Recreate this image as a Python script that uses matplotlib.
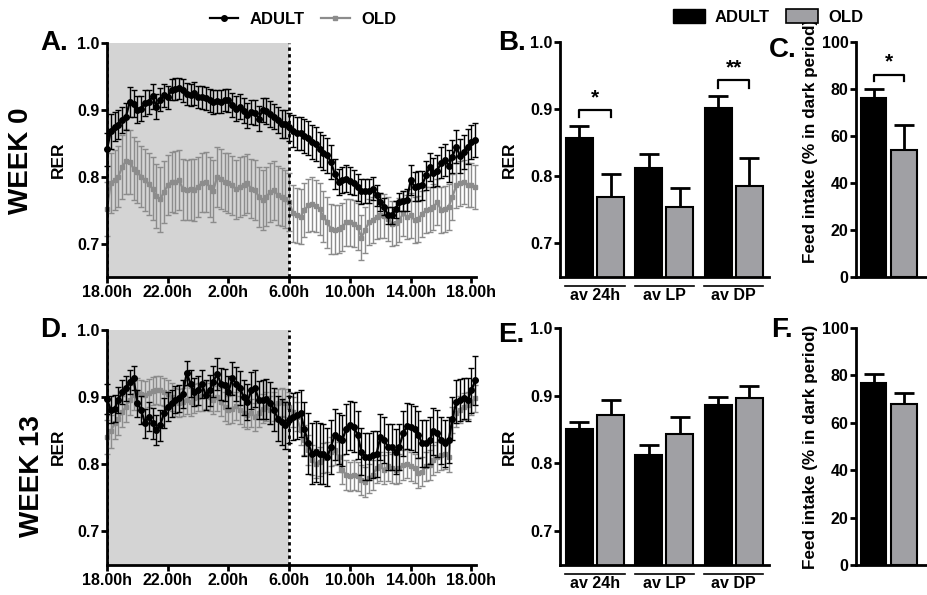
import numpy as np
import matplotlib
matplotlib.use("Agg")
import matplotlib.pyplot as plt
from matplotlib.lines import Line2D
from matplotlib.patches import Patch
import matplotlib.transforms as mtransforms

plt.rcParams['font.family'] = ['Liberation Sans', 'DejaVu Sans']
plt.rcParams['font.weight'] = 'bold'
plt.rcParams['axes.labelweight'] = 'bold'

# ---------------- data ----------------
time_step_h = 0.25  # 15-min sampling, 18:00 -> 18:15 next day
time_ticks = [0, 4, 8, 12, 16, 20, 24]
time_labels = ["18.00h", "22.00h", "2.00h", "6.00h", "10.00h", "14.00h", "18.00h"]

adult_w0 = [0.841, 0.868, 0.875, 0.878, 0.885, 0.890, 0.912, 0.909, 0.900, 0.902,
            0.910, 0.912, 0.920, 0.905, 0.915, 0.922, 0.919, 0.930, 0.931, 0.932,
            0.929, 0.924, 0.922, 0.925, 0.919, 0.919, 0.917, 0.914, 0.912, 0.913,
            0.912, 0.915, 0.914, 0.907, 0.902, 0.905, 0.899, 0.892, 0.897, 0.896,
            0.887, 0.900, 0.898, 0.894, 0.890, 0.885, 0.879, 0.879, 0.875, 0.868,
            0.865, 0.865, 0.861, 0.858, 0.852, 0.849, 0.841, 0.836, 0.832, 0.822,
            0.804, 0.792, 0.795, 0.797, 0.794, 0.791, 0.784, 0.778, 0.778, 0.778,
            0.782, 0.772, 0.762, 0.755, 0.742, 0.742, 0.751, 0.762, 0.764, 0.765,
            0.795, 0.785, 0.786, 0.787, 0.802, 0.815, 0.806, 0.809, 0.821, 0.825,
            0.816, 0.830, 0.845, 0.831, 0.837, 0.845, 0.852, 0.855]
adult_w0_err = [0.025, 0.026, 0.022, 0.022, 0.020, 0.020, 0.022, 0.020, 0.020, 0.019,
                0.019, 0.018, 0.018, 0.018, 0.017, 0.017, 0.017, 0.016, 0.017, 0.016,
                0.017, 0.016, 0.016, 0.017, 0.016, 0.017, 0.017, 0.017, 0.018, 0.017,
                0.017, 0.016, 0.017, 0.018, 0.018, 0.018, 0.018, 0.019, 0.018, 0.018,
                0.019, 0.018, 0.019, 0.019, 0.019, 0.020, 0.021, 0.021, 0.021, 0.024,
                0.025, 0.025, 0.025, 0.026, 0.025, 0.026, 0.026, 0.026, 0.026, 0.025,
                0.022, 0.020, 0.020, 0.020, 0.020, 0.019, 0.020, 0.019, 0.018, 0.018,
                0.017, 0.016, 0.014, 0.013, 0.012, 0.012, 0.013, 0.014, 0.015, 0.016,
                0.022, 0.022, 0.022, 0.022, 0.022, 0.021, 0.022, 0.023, 0.023, 0.024,
                0.024, 0.025, 0.025, 0.025, 0.026, 0.026, 0.025, 0.025]

old_w0 = [0.752, 0.791, 0.795, 0.800, 0.815, 0.823, 0.822, 0.812, 0.807, 0.800,
          0.795, 0.789, 0.782, 0.771, 0.766, 0.777, 0.787, 0.792, 0.792, 0.795,
          0.781, 0.780, 0.781, 0.780, 0.785, 0.791, 0.792, 0.785, 0.779, 0.800,
          0.797, 0.792, 0.791, 0.787, 0.781, 0.785, 0.787, 0.790, 0.782, 0.780,
          0.770, 0.765, 0.770, 0.777, 0.780, 0.772, 0.770, 0.767, 0.762, 0.745,
          0.742, 0.740, 0.750, 0.757, 0.759, 0.756, 0.752, 0.740, 0.732, 0.722,
          0.721, 0.722, 0.725, 0.732, 0.732, 0.730, 0.725, 0.709, 0.720, 0.732,
          0.735, 0.740, 0.742, 0.741, 0.737, 0.730, 0.731, 0.735, 0.745, 0.740,
          0.742, 0.735, 0.737, 0.744, 0.750, 0.751, 0.755, 0.762, 0.750, 0.752,
          0.755, 0.770, 0.787, 0.790, 0.792, 0.787, 0.787, 0.785]
old_w0_err = [0.040, 0.045, 0.045, 0.046, 0.048, 0.049, 0.048, 0.047, 0.047, 0.046,
              0.046, 0.047, 0.047, 0.048, 0.048, 0.046, 0.045, 0.045, 0.046, 0.045,
              0.045, 0.045, 0.045, 0.046, 0.045, 0.044, 0.045, 0.045, 0.046, 0.045,
              0.045, 0.044, 0.045, 0.044, 0.044, 0.045, 0.044, 0.044, 0.044, 0.045,
              0.045, 0.045, 0.044, 0.044, 0.044, 0.044, 0.043, 0.043, 0.043, 0.042,
              0.041, 0.041, 0.040, 0.040, 0.040, 0.039, 0.039, 0.038, 0.038, 0.037,
              0.036, 0.036, 0.036, 0.035, 0.035, 0.035, 0.035, 0.034, 0.034, 0.034,
              0.034, 0.033, 0.033, 0.033, 0.033, 0.033, 0.033, 0.033, 0.033, 0.033,
              0.034, 0.034, 0.034, 0.034, 0.034, 0.034, 0.034, 0.034, 0.034, 0.034,
              0.034, 0.034, 0.034, 0.034, 0.033, 0.033, 0.033, 0.033]

adult_w13 = [0.897, 0.881, 0.883, 0.896, 0.908, 0.913, 0.923, 0.928, 0.891, 0.881,
             0.861, 0.871, 0.861, 0.851, 0.858, 0.876, 0.886, 0.891, 0.896, 0.898,
             0.905, 0.936, 0.920, 0.908, 0.910, 0.920, 0.903, 0.910, 0.923, 0.935,
             0.920, 0.918, 0.908, 0.928, 0.920, 0.914, 0.900, 0.893, 0.910, 0.913,
             0.896, 0.896, 0.897, 0.891, 0.881, 0.868, 0.863, 0.858, 0.866, 0.871,
             0.873, 0.876, 0.853, 0.831, 0.816, 0.819, 0.816, 0.815, 0.811, 0.826,
             0.844, 0.839, 0.836, 0.853, 0.858, 0.856, 0.844, 0.819, 0.811, 0.811,
             0.814, 0.815, 0.841, 0.836, 0.826, 0.826, 0.819, 0.826, 0.846, 0.857,
             0.856, 0.853, 0.844, 0.831, 0.831, 0.836, 0.849, 0.846, 0.836, 0.831,
             0.836, 0.868, 0.893, 0.896, 0.898, 0.896, 0.910, 0.925]
adult_w13_err = [0.022, 0.020, 0.020, 0.019, 0.018, 0.018, 0.018, 0.018, 0.020, 0.021,
                 0.022, 0.022, 0.023, 0.023, 0.023, 0.022, 0.021, 0.020, 0.020, 0.020,
                 0.021, 0.018, 0.020, 0.021, 0.021, 0.021, 0.022, 0.023, 0.023, 0.024,
                 0.024, 0.024, 0.024, 0.025, 0.025, 0.025, 0.026, 0.027, 0.027, 0.027,
                 0.028, 0.029, 0.030, 0.031, 0.032, 0.033, 0.034, 0.035, 0.035, 0.035,
                 0.035, 0.035, 0.040, 0.045, 0.045, 0.045, 0.045, 0.045, 0.043, 0.040,
                 0.038, 0.038, 0.038, 0.037, 0.037, 0.037, 0.036, 0.035, 0.035, 0.035,
                 0.035, 0.034, 0.034, 0.034, 0.034, 0.034, 0.034, 0.034, 0.034, 0.034,
                 0.034, 0.034, 0.035, 0.035, 0.035, 0.035, 0.035, 0.035, 0.035, 0.035,
                 0.034, 0.032, 0.032, 0.031, 0.031, 0.032, 0.033, 0.036]

old_w13 = [0.841, 0.849, 0.861, 0.868, 0.878, 0.886, 0.896, 0.903, 0.908, 0.905,
           0.903, 0.906, 0.909, 0.911, 0.910, 0.908, 0.905, 0.900, 0.893, 0.891,
           0.893, 0.896, 0.893, 0.898, 0.900, 0.901, 0.903, 0.900, 0.896, 0.900,
           0.893, 0.886, 0.881, 0.883, 0.887, 0.881, 0.876, 0.873, 0.876, 0.871,
           0.876, 0.883, 0.886, 0.881, 0.886, 0.891, 0.893, 0.891, 0.886, 0.878,
           0.871, 0.851, 0.836, 0.821, 0.806, 0.801, 0.804, 0.809, 0.811, 0.819,
           0.821, 0.811, 0.792, 0.784, 0.782, 0.784, 0.782, 0.777, 0.774, 0.779,
           0.784, 0.794, 0.797, 0.792, 0.797, 0.794, 0.792, 0.794, 0.799, 0.801,
           0.797, 0.794, 0.787, 0.789, 0.797, 0.799, 0.806, 0.811, 0.814, 0.815,
           0.811, 0.866, 0.876, 0.881, 0.886, 0.888, 0.893, 0.898]
old_w13_err = [0.025, 0.025, 0.024, 0.024, 0.023, 0.023, 0.022, 0.022, 0.021, 0.021,
               0.021, 0.021, 0.021, 0.021, 0.021, 0.021, 0.021, 0.021, 0.021, 0.021,
               0.021, 0.021, 0.021, 0.021, 0.021, 0.021, 0.021, 0.021, 0.021, 0.021,
               0.021, 0.021, 0.021, 0.021, 0.021, 0.021, 0.021, 0.021, 0.021, 0.021,
               0.021, 0.021, 0.021, 0.021, 0.021, 0.021, 0.021, 0.021, 0.021, 0.022,
               0.022, 0.022, 0.022, 0.022, 0.022, 0.022, 0.022, 0.022, 0.022, 0.022,
               0.022, 0.022, 0.022, 0.022, 0.022, 0.022, 0.022, 0.022, 0.022, 0.022,
               0.022, 0.022, 0.022, 0.022, 0.022, 0.022, 0.022, 0.022, 0.022, 0.022,
               0.022, 0.022, 0.022, 0.022, 0.022, 0.022, 0.022, 0.022, 0.022, 0.022,
               0.022, 0.020, 0.020, 0.020, 0.020, 0.020, 0.020, 0.020]

bar_groups = ["av 24h", "av LP", "av DP"]
rer_w0_adult = [0.857, 0.812, 0.901]
rer_w0_adult_err = [0.018, 0.021, 0.019]
rer_w0_old = [0.769, 0.755, 0.785]
rer_w0_old_err = [0.035, 0.027, 0.042]
rer_w13_adult = [0.851, 0.813, 0.887]
rer_w13_adult_err = [0.010, 0.014, 0.011]
rer_w13_old = [0.871, 0.843, 0.896]
rer_w13_old_err = [0.022, 0.026, 0.019]

feed_w0 = [76.0, 53.9]
feed_w0_err = [4.0, 10.8]
feed_w13 = [76.7, 67.8]
feed_w13_err = [3.8, 4.8]

# ---------------- style ----------------
BLACK = "#000000"
GREY_LINE = "#8c8c8c"
GREY_BAR = "#a0a0a4"
SHADE = "#d4d4d4"
TICK_FS = 11.5
SPINE_LW = 2.0

W, H = 927, 595
fig = plt.figure(figsize=(W / 100, H / 100), dpi=100)


def px_axes(left, top, right, bottom):
    return fig.add_axes([left / W, 1 - bottom / H, (right - left) / W, (bottom - top) / H])


def style(ax):
    for s in ["top", "right"]:
        ax.spines[s].set_visible(False)
    for s in ["left", "bottom"]:
        ax.spines[s].set_linewidth(SPINE_LW)
    ax.tick_params(width=SPINE_LW, length=4, labelsize=TICK_FS, pad=1.5)
    for lab in ax.get_xticklabels() + ax.get_yticklabels():
        lab.set_fontweight("bold")


def time_panel(ax, adult, adult_err, old, old_err):
    n = len(adult)
    hours = np.arange(n) * time_step_h
    ax.axvspan(0, 12, color=SHADE, zorder=0, lw=0)
    ax.errorbar(hours, old, yerr=old_err, fmt='-s', color=GREY_LINE, ms=3.5,
                lw=1.6, elinewidth=1.0, capsize=2.5, capthick=1.0, zorder=2,
                clip_on=False)
    ax.errorbar(hours, adult, yerr=adult_err, fmt='-o', color=BLACK, ms=4,
                lw=1.6, elinewidth=1.0, capsize=2.5, capthick=1.0, zorder=3,
                clip_on=False)
    ax.axvline(0, color=BLACK, ls=(0, (1.2, 1.2)), lw=2, zorder=4)
    ax.axvline(12, color=BLACK, ls=(0, (1.2, 1.2)), lw=2, zorder=4)
    ax.set_xlim(0, 24.3)
    ax.set_ylim(0.65, 1.0)
    ax.set_yticks([0.7, 0.8, 0.9, 1.0])
    ax.set_yticklabels(["0.7", "0.8", "0.9", "1.0"])
    ax.set_xticks(time_ticks)
    ax.set_xticklabels(time_labels)
    style(ax)


def rer_bars(ax, adult, adult_err, old, old_err):
    x = np.arange(len(bar_groups))
    off, bw = 0.224, 0.39
    ax.bar(x - off, adult, bw, color=BLACK, edgecolor=BLACK, lw=1.5, zorder=2)
    ax.bar(x + off, old, bw, color=GREY_BAR, edgecolor=BLACK, lw=1.5, zorder=2)
    ax.errorbar(x - off, adult, yerr=[np.zeros(len(adult)), adult_err], fmt='none',
                ecolor=BLACK, elinewidth=2, capsize=7, capthick=2, zorder=1)
    ax.errorbar(x + off, old, yerr=[np.zeros(len(old)), old_err], fmt='none',
                ecolor=BLACK, elinewidth=2, capsize=7, capthick=2, zorder=1)
    ax.set_xlim(-0.505, 2.51)
    ax.set_ylim(0.65, 1.0)
    ax.set_yticks([0.7, 0.8, 0.9, 1.0])
    ax.set_yticklabels(["0.7", "0.8", "0.9", "1.0"])
    ax.set_xticks([])
    style(ax)
    trans = mtransforms.blended_transform_factory(ax.transData, ax.transAxes)
    for xi, lab in zip(x, bar_groups):
        ax.plot([xi - 0.43, xi + 0.43], [-0.04, -0.04], color=BLACK, lw=1.2,
                transform=trans, clip_on=False)
        ax.text(xi, -0.078, lab, transform=trans, ha='center', va='center',
                fontsize=TICK_FS, fontweight='bold')


def feed_bars(ax, vals, errs):
    x = np.arange(2)
    bw = 0.84
    ax.bar(x, vals, bw, color=[BLACK, GREY_BAR], edgecolor=BLACK, lw=1.5, zorder=2)
    ax.errorbar(x, vals, yerr=[np.zeros(2), errs], fmt='none', ecolor=BLACK,
                elinewidth=2, capsize=7, capthick=2, zorder=1)
    ax.set_xlim(-0.58, 1.75)
    ax.set_ylim(0, 100)
    ax.set_yticks([0, 20, 40, 60, 80, 100])
    ax.set_xticks([])
    style(ax)
    ax.spines["bottom"].set_visible(False)
    ax.axhline(0, color=BLACK, lw=SPINE_LW, clip_on=False)


def bracket(ax, x0, x1, ytop, ydrop, label, ytext):
    ax.plot([x0, x0, x1, x1], [ydrop, ytop, ytop, ydrop], color=BLACK, lw=1.6)
    ax.text((x0 + x1) / 2, ytext, label, ha='center', va='bottom', fontsize=15,
            fontweight='bold')


# ---------------- panels ----------------
axA = px_axes(107, 43, 476, 277)
time_panel(axA, adult_w0, adult_w0_err, old_w0, old_w0_err)
axD = px_axes(107, 330, 476, 565)
time_panel(axD, adult_w13, adult_w13_err, old_w13, old_w13_err)

axB = px_axes(560, 42, 769, 277)
rer_bars(axB, rer_w0_adult, rer_w0_adult_err, rer_w0_old, rer_w0_old_err)
bracket(axB, -0.224, 0.224, 0.8985, 0.888, "*", 0.902)
bracket(axB, 1.776, 2.224, 0.943, 0.932, "**", 0.947)
axE = px_axes(560, 328, 769, 565)
rer_bars(axE, rer_w13_adult, rer_w13_adult_err, rer_w13_old, rer_w13_old_err)

axC = px_axes(856, 42, 927, 277)
feed_bars(axC, feed_w0, feed_w0_err)
bracket(axC, 0, 1, 86.1, 83.3, "*", 87.5)
axF = px_axes(856, 328, 927, 565)
feed_bars(axF, feed_w13, feed_w13_err)

# ---------------- texts ----------------
def ftext(x, y, s, **kw):
    fig.text(x / W, 1 - y / H, s, fontweight='bold', **kw)

ftext(40, 43, "A.", fontsize=20, ha='left', va='center')
ftext(498, 43, "B.", fontsize=20, ha='left', va='center')
ftext(769, 50, "C.", fontsize=20, ha='left', va='center')
ftext(40, 330, "D.", fontsize=20, ha='left', va='center')
ftext(498, 335, "E.", fontsize=20, ha='left', va='center')
ftext(771, 330, "F.", fontsize=20, ha='left', va='center')

ftext(21, 161, "WEEK 0", fontsize=20, rotation=90, ha='center', va='center')
ftext(32, 476, "WEEK 13", fontsize=20, rotation=90, ha='center', va='center')

ftext(58, 160, "RER", fontsize=12.5, rotation=90, ha='center', va='center')
ftext(58, 447, "RER", fontsize=12.5, rotation=90, ha='center', va='center')
ftext(509, 160, "RER", fontsize=12.5, rotation=90, ha='center', va='center')
ftext(509, 447, "RER", fontsize=12.5, rotation=90, ha='center', va='center')
ftext(811, 141, "Feed intake (% in dark period)", fontsize=12.3, rotation=90,
      ha='center', va='center')
ftext(811, 447, "Feed intake (% in dark period)", fontsize=12.3, rotation=90,
      ha='center', va='center')

# legends
line_handles = [Line2D([], [], color=BLACK, marker='o', ms=4, lw=1.6),
                Line2D([], [], color=GREY_LINE, marker='s', ms=3.5, lw=1.6)]
fig.legend(line_handles, ["ADULT", "OLD"], loc='center', bbox_to_anchor=(303 / W, 1 - 19 / H),
           ncol=2, frameon=False, handlelength=1.7, columnspacing=1.0, handletextpad=0.7,
           prop={'weight': 'bold', 'size': 12})
bar_handles = [Patch(facecolor=BLACK, edgecolor=BLACK),
               Patch(facecolor=GREY_BAR, edgecolor=BLACK, lw=1.2)]
fig.legend(bar_handles, ["ADULT", "OLD"], loc='center', bbox_to_anchor=(768 / W, 1 - 17 / H),
           ncol=2, frameon=False, handlelength=1.9, handleheight=0.9, columnspacing=1.0,
           handletextpad=0.6, prop={'weight': 'bold', 'size': 12})

fig.savefig("out.png", dpi=100)
